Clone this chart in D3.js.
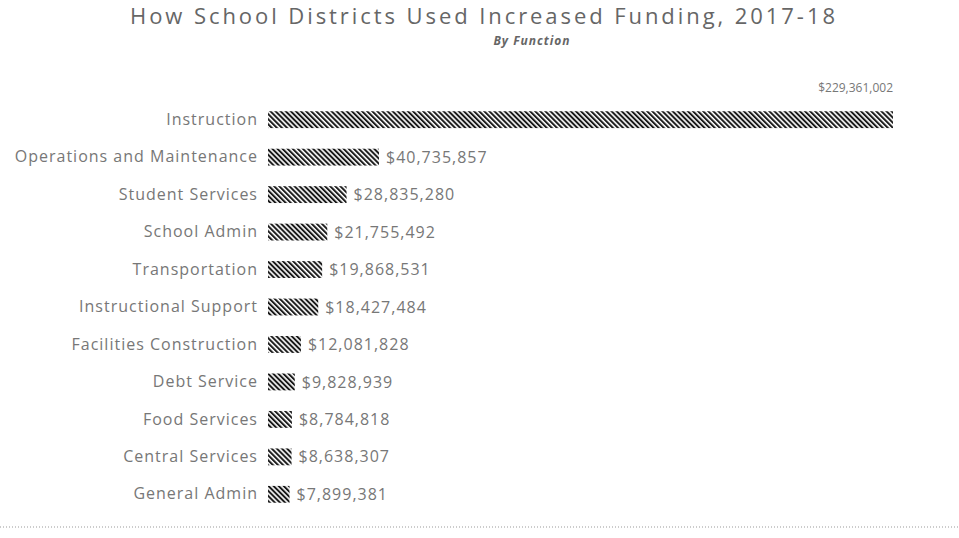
<!DOCTYPE html>
<html>
<head>
<meta charset="utf-8">
<script src="https://cdn.jsdelivr.net/npm/d3@7"></script>
<style>
  html, body { margin: 0; padding: 0; background: #fff; }
  svg { display: block; font-family: "Open Sans", "DejaVu Sans", sans-serif; }
</style>
</head>
<body>
<svg id="chart" width="959" height="538"></svg>
<script>
// Increased funding by function, 2017-18
const categories = [
  "Instruction",
  "Operations and Maintenance",
  "Student Services",
  "School Admin",
  "Transportation",
  "Instructional Support",
  "Facilities Construction",
  "Debt Service",
  "Food Services",
  "Central Services",
  "General Admin"
];
const amounts = [
  229361002,
  40735857,
  28835280,
  21755492,
  19868531,
  18427484,
  12081828,
  9828939,
  8784818,
  8638307,
  7899381
];
const titleText = "How School  Districts Used Increased Funding, 2017-18";
const subtitleText = "By Function";

const svg = d3.select("#chart");
const W = 959, H = 538;
const margin = { left: 268, right: 66, top: 100, bottom: 24 };

// Diagonal hatch fill for the bars
const defs = svg.append("defs");
const pat = defs.append("pattern")
  .attr("id", "hatch")
  .attr("patternUnits", "userSpaceOnUse")
  .attr("width", 3.6).attr("height", 3.6)
  .attr("patternTransform", "rotate(-45)");
pat.append("rect").attr("width", 3.6).attr("height", 3.6).attr("fill", "#fff");
pat.append("rect").attr("x", 0).attr("y", 0).attr("width", 2).attr("height", 3.6).attr("fill", "#1a1a1a");

const x = d3.scaleLinear()
  .domain([0, d3.max(amounts)])
  .range([margin.left, W - margin.right]);

const y = d3.scaleBand()
  .domain(categories)
  .range([margin.top, H - margin.bottom])
  .paddingInner(0.55)
  .paddingOuter(0.3);

const fmt = v => "$" + d3.format(",")(v);

// Title and subtitle
svg.append("text")
  .attr("x", 130).attr("y", 24)
  .attr("font-size", 22)
  .attr("textLength", 705)
  .attr("lengthAdjust", "spacing")
  .attr("fill", "#666")
  .text(titleText);
svg.append("text")
  .attr("x", 532).attr("y", 45)
  .attr("text-anchor", "middle")
  .attr("font-size", 12)
  .attr("letter-spacing", 1)
  .attr("font-style", "italic")
  .attr("font-weight", "bold")
  .attr("fill", "#666")
  .text(subtitleText);

// Category axis (labels only)
const yAxis = d3.axisLeft(y).tickSize(0).tickPadding(10);
const gy = svg.append("g")
  .attr("transform", `translate(${margin.left},0)`)
  .call(yAxis);
gy.select(".domain").remove();
gy.selectAll("text")
  .attr("font-size", 16)
  .attr("letter-spacing", 1)
  .attr("fill", "#777")
  .attr("font-family", "'Open Sans', 'DejaVu Sans', sans-serif");

const rows = categories.map((c, i) => ({ c, v: amounts[i], i }));

svg.append("g").selectAll("rect")
  .data(rows)
  .join("rect")
  .attr("x", x(0))
  .attr("y", d => y(d.c))
  .attr("width", d => x(d.v) - x(0))
  .attr("height", y.bandwidth())
  .attr("fill", "url(#hatch)");

// Value labels: the largest sits above its bar end, the others follow the bar
svg.append("g").selectAll("text")
  .data(rows)
  .join("text")
  .attr("x", d => d.i === 0 ? x(d.v) : x(d.v) + 7)
  .attr("y", d => d.i === 0 ? y(d.c) + y.bandwidth() / 2 - 32 : y(d.c) + y.bandwidth() / 2)
  .attr("dy", "0.35em")
  .attr("text-anchor", d => d.i === 0 ? "end" : "start")
  .attr("font-size", d => d.i === 0 ? 12 : 16)
  .attr("letter-spacing", d => d.i === 0 ? 0 : 1)
  .attr("fill", "#777")
  .text(d => fmt(d.v));

// Dotted baseline at the foot of the chart
svg.append("line")
  .attr("x1", 0).attr("x2", W)
  .attr("y1", 527).attr("y2", 527)
  .attr("stroke", "#999")
  .attr("stroke-width", 1)
  .attr("stroke-dasharray", "1,2");
</script>
</body>
</html>
